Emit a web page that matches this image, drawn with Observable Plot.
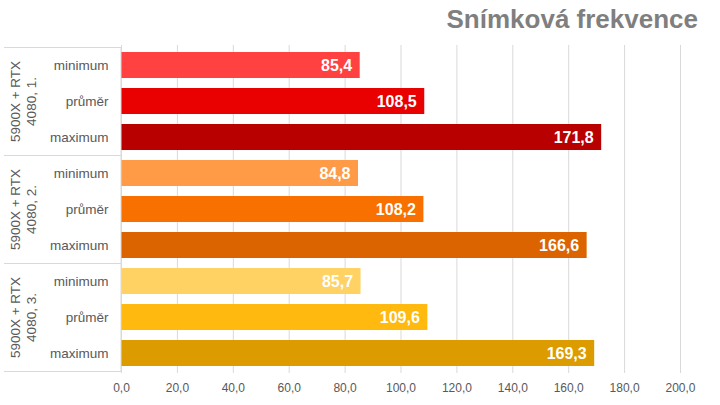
<!DOCTYPE html>
<html>
<head>
<meta charset="utf-8">
<script src="https://cdn.jsdelivr.net/npm/d3@7"></script>
<script src="https://cdn.jsdelivr.net/npm/@observablehq/plot@0.6"></script>
<style>
  html, body { margin: 0; padding: 0; background: #fff; }
  #wrap { position: relative; width: 720px; height: 405px; font-family: "Liberation Sans", Arial, sans-serif; }
  #title { position: absolute; right: 22px; top: 6px; font-size: 26px; line-height: 1; font-weight: bold; color: #7f7f7f; }
</style>
</head>
<body>
<div id="wrap"><div id="title">Snímková frekvence</div></div>
<script>
const groups = ["5900X + RTX\n4080, 1.", "5900X + RTX\n4080, 2.", "5900X + RTX\n4080, 3."];
const metrics = ["minimum", "průměr", "maximum"];
const values1 = [85.4, 108.5, 171.8];
const values2 = [84.8, 108.2, 166.6];
const values3 = [85.7, 109.6, 169.3];
const colors = ["#FF4141", "#E90000", "#B80000", "#FF9A46", "#F87000", "#DC6400", "#FFD263", "#FFB90F", "#DC9C00"];
const xTicks = [0, 20, 40, 60, 80, 100, 120, 140, 160, 180, 200];

const series = [values1, values2, values3];
const data = [];
groups.forEach((g, gi) => metrics.forEach((m, mi) => {
  data.push({group: g, metric: m, key: gi + "|" + m, value: series[gi][mi], color: colors[gi * 3 + mi]});
}));
const fmt = v => v.toFixed(1).replace(".", ",");
const font = "Liberation Sans, Arial, sans-serif";

const plot = Plot.plot({
  width: 720,
  height: 405,
  marginLeft: 121,
  marginRight: 40,
  marginTop: 45,
  marginBottom: 32,
  style: {fontFamily: font, background: "#fff"},
  x: {domain: [0, 200], ticks: xTicks, tickFormat: fmt, label: null},
  y: {domain: data.map(d => d.key), paddingInner: 0.28, paddingOuter: 0.14, label: null},
  marks: [
    Plot.gridX(xTicks, {stroke: "#d9d9d9", strokeOpacity: 1}),
    Plot.axisX({ticks: xTicks, tickFormat: fmt, tickSize: 0, tickPadding: 10, fontSize: 12, color: "#595959", label: null}),
    Plot.axisY({tickSize: 0, tickPadding: 13, fontSize: 13.5, color: "#595959", tickFormat: k => k.split("|")[1], label: null}),
    Plot.barX(data, {x: "value", y: "key", fill: "color"}),
    Plot.text(data, {x: "value", y: "key", text: d => fmt(d.value), textAnchor: "end", dx: -8, fill: "#fff", fontWeight: "bold", fontSize: 16}),
    Plot.text(data.filter(d => d.metric === "průměr"), {y: "key", text: "group", frameAnchor: "left", dx: -99, rotate: -90, textAnchor: "middle", fill: "#595959", fontSize: 13.5, lineHeight: 1.18})
  ]
});

document.getElementById("wrap").appendChild(plot);

// category box lines (left axis frame)
const ys = plot.scale("y");
const xs = plot.scale("x");
const step = ys.step, bw = ys.bandwidth;
const svg = d3.select(plot);
const x0 = xs.apply(0);
const boundaries = [];
groups.forEach((g, gi) => boundaries.push(ys.apply(gi + "|" + metrics[0]) - (step - bw) / 2));
boundaries.push(ys.apply((groups.length - 1) + "|" + metrics[2]) + bw + (step - bw) / 2);
const gl = svg.append("g").attr("stroke", "#d9d9d9").attr("stroke-width", 1);
boundaries.forEach(b => gl.append("line").attr("x1", 4).attr("x2", x0).attr("y1", Math.round(b) + 0.5).attr("y2", Math.round(b) + 0.5));
gl.append("line").attr("x1", x0).attr("x2", x0).attr("y1", boundaries[0]).attr("y2", boundaries[boundaries.length - 1]);
</script>
</body>
</html>
